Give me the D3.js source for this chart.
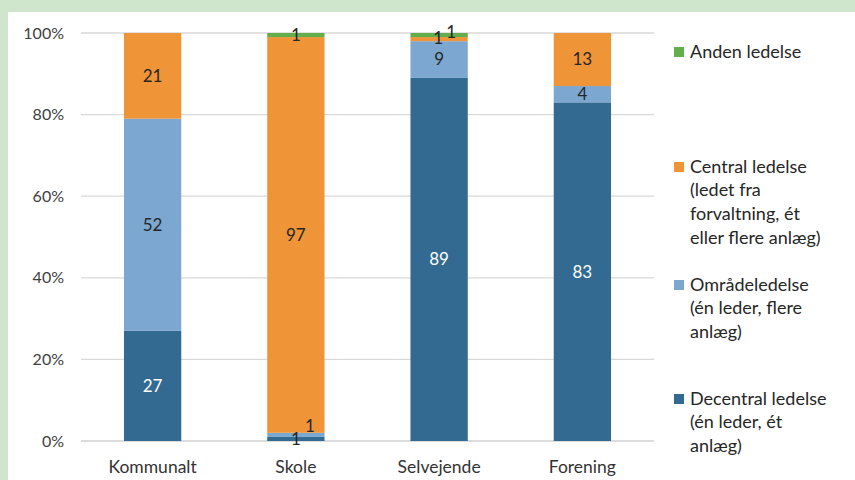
<!DOCTYPE html>
<html>
<head>
<meta charset="utf-8">
<script src="https://cdn.jsdelivr.net/npm/d3@7"></script>
<style>
  body { margin: 0; background: #cfe6cc; }
  svg { display: block; font-family: Lato, "Open Sans", sans-serif; }
</style>
</head>
<body>
<svg id="chart" width="855" height="480"></svg>
<script>
'use strict';

// categories and series (percent of each category)
var categories = ['Kommunalt', 'Skole', 'Selvejende', 'Forening'];
var decentral = [27, 1, 89, 83];
var omraade = [52, 1, 9, 4];
var central = [21, 97, 1, 13];
var anden = [0, 1, 1, 0];
var yTicks = [0, 20, 40, 60, 80, 100];

var legendLines = [
    ['Decentral ledelse', '(én leder, ét', 'anlæg)'],
    ['Områdeledelse', '(én leder, flere', 'anlæg)'],
    ['Central ledelse', '(ledet fra', 'forvaltning, ét', 'eller flere anlæg)'],
    ['Anden ledelse']
];
var colors = ['#336a92', '#7ba7d0', '#ef9537', '#62ae4b'];
var labelColors = ['#ffffff', '#262626', '#262626', '#262626'];

var svg = d3.select('#chart');

// white panel inside green frame
svg.append('rect').attr('x', 8).attr('y', 12).attr('width', 847).attr('height', 468).attr('fill', '#ffffff');

var x = d3.scaleBand().domain(categories).range([81, 654]).paddingInner(0.6).paddingOuter(0.3);
var y = d3.scaleLinear().domain([0, 100]).range([441, 33]);

// gridlines
svg.append('g').selectAll('line').data(yTicks).join('line')
    .attr('x1', 81).attr('x2', 654)
    .attr('y1', function(d) { return y(d); }).attr('y2', function(d) { return y(d); })
    .attr('stroke', function(d) { return d === 0 ? '#d0d0d0' : '#d9d9d9'; })
    .attr('stroke-width', 1.3);

// y axis labels
svg.append('g').selectAll('text').data(yTicks).join('text')
    .attr('x', 64).attr('y', function(d) { return y(d); })
    .attr('dy', '0.35em').attr('text-anchor', 'end')
    .attr('font-size', 16).attr('fill', '#404040')
    .text(function(d) { return d + '%'; });

// x axis labels
svg.append('g').selectAll('text').data(categories).join('text')
    .attr('x', function(d) { return x(d) + x.bandwidth() / 2; })
    .attr('y', 467).attr('dy', '0.35em').attr('text-anchor', 'middle')
    .attr('font-size', 17.5).attr('fill', '#333333')
    .text(function(d) { return d; });

var table = categories.map(function(c, i) {
    return { cat: c, s0: decentral[i], s1: omraade[i], s2: central[i], s3: anden[i] };
});
var stack = d3.stack().keys(['s0', 's1', 's2', 's3'])(table);

var layers = svg.append('g').selectAll('g').data(stack).join('g')
    .attr('fill', function(d, i) { return colors[i]; });

layers.selectAll('rect').data(function(d) { return d; }).join('rect')
    .attr('x', function(d) { return x(d.data.cat); })
    .attr('width', x.bandwidth())
    .attr('y', function(d) { return y(d[1]); })
    .attr('height', function(d) { return y(d[0]) - y(d[1]); });

// value labels; tiny segments get nudged so they don't collide
var nudges = { 'Skole-1': [14, -9], 'Selvejende-2': [-1, -1], 'Selvejende-3': [12, -3] };
stack.forEach(function(layer, li) {
    layer.forEach(function(d) {
        var v = d[1] - d[0];
        if (v <= 0) return;
        var off = nudges[d.data.cat + '-' + li] || [0, 0];
        svg.append('text')
            .attr('x', x(d.data.cat) + x.bandwidth() / 2 + off[0])
            .attr('y', y((d[0] + d[1]) / 2) + off[1])
            .attr('dy', '0.35em').attr('text-anchor', 'middle')
            .attr('font-size', 17).attr('fill', v < 3 ? '#262626' : labelColors[li])
            .text(v);
    });
});

// legend, top entry first
var legendY = [[399, 422, 446], [285, 308, 332], [167, 190, 214, 238], [52]];
legendLines.forEach(function(lines, i) {
    var g = svg.append('g');
    g.append('rect').attr('x', 674).attr('y', legendY[i][0] - 5).attr('width', 10).attr('height', 10)
        .attr('fill', colors[i]);
    lines.forEach(function(t, j) {
        g.append('text').attr('x', 690).attr('y', legendY[i][j]).attr('dy', '0.35em')
            .attr('font-size', 18).attr('fill', '#262626').text(t);
    });
});
</script>
</body>
</html>
